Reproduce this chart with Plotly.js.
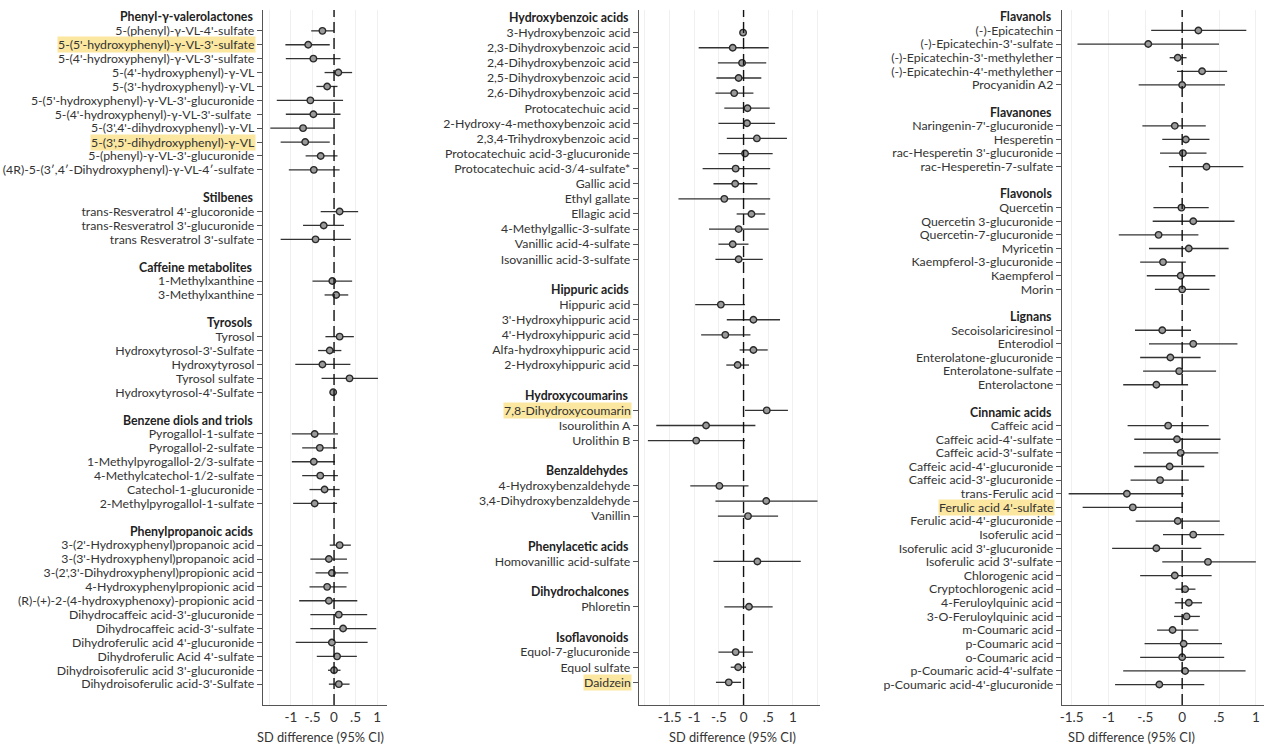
<!DOCTYPE html>
<html>
<head>
<meta charset="utf-8">
<script src="https://cdn.plot.ly/plotly-3.0.1.min.js"></script>
<style>html,body{margin:0;padding:0;background:#fff;}#chart{width:1264px;height:745px;}</style>
</head>
<body>
<div id="chart"></div>
<script>
// ---------- Panel 1 ----------
const p1Groups = ["Phenyl-γ-valerolactones","Stilbenes","Caffeine metabolites","Tyrosols","Benzene diols and triols","Phenylpropanoic acids"];
const p1Counts = [11,3,2,5,6,11];
const p1Labels = [
 "5-(phenyl)-γ-VL-4'-sulfate","5-(5'-hydroxyphenyl)-γ-VL-3'-sulfate","5-(4'-hydroxyphenyl)-γ-VL-3'-sulfate","5-(4'-hydroxyphenyl)-γ-VL","5-(3'-hydroxyphenyl)-γ-VL","5-(5'-hydroxyphenyl)-γ-VL-3'-glucuronide","5-(4'-hydroxyphenyl)-γ-VL-3'-sulfate ","5-(3',4'-dihydroxyphenyl)-γ-VL","5-(3',5'-dihydroxyphenyl)-γ-VL","5-(phenyl)-γ-VL-3'-glucuronide","(4R)-5-(3′,4′-Dihydroxyphenyl)-γ-VL-4′-sulfate",
 "trans-Resveratrol 4'-glucoronide","trans-Resveratrol 3'-glucuronide","trans Resveratrol 3'-sulfate",
 "1-Methylxanthine","3-Methylxanthine",
 "Tyrosol","Hydroxytyrosol-3'-Sulfate","Hydroxytyrosol","Tyrosol sulfate","Hydroxytyrosol-4'-Sulfate",
 "Pyrogallol-1-sulfate","Pyrogallol-2-sulfate","1-Methylpyrogallol-2/3-sulfate","4-Methylcatechol-1/2-sulfate","Catechol-1-glucuronide","2-Methylpyrogallol-1-sulfate",
 "3-(2'-Hydroxyphenyl)propanoic acid","3-(3'-Hydroxyphenyl)propanoic acid","3-(2',3'-Dihydroxyphenyl)propionic acid","4-Hydroxyphenylpropionic acid","(R)-(+)-2-(4-hydroxyphenoxy)-propionic acid","Dihydrocaffeic acid-3'-glucuronide","Dihydrocaffeic acid-3'-sulfate","Dihydroferulic acid 4'-glucuronide","Dihydroferulic Acid 4'-sulfate","Dihydroisoferulic acid 3'-glucuronide","Dihydroisoferulic acid-3'-Sulfate"
];
const p1Est = [-0.27,-0.60,-0.48,0.10,-0.16,-0.55,-0.48,-0.72,-0.67,-0.31,-0.47, 0.13,-0.24,-0.43, -0.04,0.05, 0.13,-0.10,-0.27,0.36,-0.02, -0.45,-0.33,-0.47,-0.32,-0.22,-0.45, 0.13,-0.12,-0.05,-0.16,-0.12,0.11,0.21,-0.05,0.07,0.00,0.11];
const p1Lo  = [-0.53,-1.13,-1.12,-0.22,-0.41,-1.33,-1.12,-1.48,-1.24,-0.66,-1.05, -0.31,-0.72,-1.24, -0.50,-0.22, -0.20,-0.37,-0.90,-0.29,-0.06, -0.98,-0.74,-0.98,-0.74,-0.57,-0.95, -0.10,-0.55,-0.43,-0.57,-0.81,-0.55,-0.55,-0.89,-0.40,-0.14,-0.12];
const p1Hi  = [0.00,-0.10,0.15,0.42,0.08,0.21,0.15,-0.01,-0.10,0.08,0.13, 0.56,0.23,0.39, 0.42,0.33, 0.46,0.17,0.38,1.02,0.04, 0.09,0.07,0.02,0.09,0.13,0.07, 0.39,0.30,0.33,0.29,0.54,0.77,0.98,0.78,0.53,0.15,0.36];
const p1Highlight = ["5-(5'-hydroxyphenyl)-γ-VL-3'-sulfate","5-(3',5'-dihydroxyphenyl)-γ-VL"];

// ---------- Panel 2 ----------
const p2Groups = ["Hydroxybenzoic acids","Hippuric acids","Hydroxycoumarins","Benzaldehydes","Phenylacetic acids","Dihydrochalcones","Isoflavonoids"];
const p2Counts = [16,5,3,3,1,1,3];
const p2Labels = [
 "3-Hydroxybenzoic acid","2,3-Dihydroxybenzoic acid","2,4-Dihydroxybenzoic acid","2,5-Dihydroxybenzoic acid","2,6-Dihydroxybenzoic acid","Protocatechuic acid","2-Hydroxy-4-methoxybenzoic acid","2,3,4-Trihydroxybenzoic acid","Protocatechuic acid-3-glucuronide","Protocatechuic acid-3/4-sulfate*","Gallic acid","Ethyl gallate","Ellagic acid","4-Methylgallic-3-sulfate","Vanillic acid-4-sulfate","Isovanillic acid-3-sulfate",
 "Hippuric acid","3'-Hydroxyhippuric acid","4'-Hydroxyhippuric acid","Alfa-hydroxyhippuric acid","2-Hydroxyhippuric acid",
 "7,8-Dihydroxycoumarin","Isourolithin A","Urolithin B",
 "4-Hydroxybenzaldehyde","3,4-Dihydroxybenzaldehyde","Vanillin",
 "Homovanillic acid-sulfate",
 "Phloretin",
 "Equol-7-glucuronide","Equol sulfate","Daidzein"
];
const p2Est = [-0.01,-0.22,-0.03,-0.10,-0.19,0.08,0.07,0.27,0.03,-0.16,-0.17,-0.39,0.16,-0.10,-0.22,-0.10, -0.46,0.20,-0.37,0.20,-0.12, 0.47,-0.76,-0.96, -0.49,0.46,0.09, 0.28, 0.11, -0.16,-0.11,-0.30];
const p2Lo  = [-0.05,-0.91,-0.52,-0.55,-0.57,-0.39,-0.51,-0.34,-0.51,-0.83,-0.61,-1.32,-0.14,-0.70,-0.51,-0.57, -0.98,-0.34,-0.86,-0.08,-0.35, 0.03,-1.77,-1.94, -1.08,-0.57,-0.52, -0.61, -0.39, -0.51,-0.26,-0.56];
const p2Hi  = [0.03,0.51,0.46,0.36,0.20,0.53,0.64,0.88,0.59,0.54,0.28,0.54,0.44,0.51,0.10,0.39, 0.03,0.74,0.14,0.49,0.11, 0.90,0.24,0.03, 0.10,1.50,0.70, 1.16, 0.59, 0.19,0.05,-0.05];
const p2Highlight = ["7,8-Dihydroxycoumarin","Daidzein"];

// ---------- Panel 3 ----------
const p3Groups = ["Flavanols","Flavanones","Flavonols","Lignans","Cinnamic acids"];
const p3Counts = [5,4,7,5,20];
const p3Labels = [
 "(-)-Epicatechin","(-)-Epicatechin-3'-sulfate","(-)-Epicatechin-3'-methylether","(-)-Epicatechin-4'-methylether","Procyanidin A2",
 "Naringenin-7'-glucuronide","Hesperetin","rac-Hesperetin 3'-glucuronide","rac-Hesperetin-7-sulfate",
 "Quercetin","Quercetin 3-glucuronide","Quercetin-7-glucuronide","Myricetin","Kaempferol-3-glucuronide","Kaempferol","Morin",
 "Secoisolariciresinol","Enterodiol","Enterolatone-glucuronide","Enterolatone-sulfate","Enterolactone",
 "Caffeic acid","Caffeic acid-4'-sulfate","Caffeic acid-3'-sulfate","Caffeic acid-4'-glucuronide","Caffeic acid-3'-glucuronide","trans-Ferulic acid","Ferulic acid 4'-sulfate","Ferulic acid-4'-glucuronide","Isoferulic acid","Isoferulic acid 3'-glucuronide","Isoferulic acid 3'-sulfate","Chlorogenic acid","Cryptochlorogenic acid","4-Feruloylquinic acid","3-O-Feruloylquinic acid","m-Coumaric acid","p-Coumaric acid","o-Coumaric acid","p-Coumaric acid-4'-sulfate","p-Coumaric acid-4'-glucuronide"
];
const p3Est = [0.22,-0.46,-0.06,0.27,0.00, -0.10,0.05,0.01,0.33, -0.01,0.15,-0.32,0.09,-0.26,-0.02,0.00, -0.27,0.15,-0.16,-0.04,-0.35, -0.19,-0.07,-0.02,-0.17,-0.30,-0.75,-0.67,-0.06,0.15,-0.35,0.35,-0.10,0.04,0.09,0.06,-0.13,0.02,0.00,0.04,-0.31];
const p3Lo  = [-0.42,-1.42,-0.17,-0.07,-0.59, -0.54,-0.27,-0.30,-0.18, -0.39,-0.40,-0.86,-0.45,-0.57,-0.48,-0.37, -0.64,-0.45,-0.57,-0.53,-0.80, -0.74,-0.65,-0.53,-0.65,-0.70,-1.54,-1.35,-0.63,-0.26,-0.95,-0.27,-0.57,-0.09,-0.10,-0.11,-0.34,-0.51,-0.57,-0.80,-0.91];
const p3Hi  = [0.87,0.50,0.06,0.61,0.58, 0.32,0.37,0.33,0.83, 0.36,0.71,0.22,0.63,0.05,0.45,0.37, 0.12,0.75,0.25,0.46,0.08, 0.36,0.52,0.49,0.30,0.09,0.02,0.01,0.51,0.57,0.26,1.00,0.40,0.18,0.27,0.24,0.22,0.54,0.57,0.86,0.30];
const p3Highlight = ["Ferulic acid 4'-sulfate"];

// x-axis tick labels
const ticks12 = [-1,-0.5,0,0.5,1];
const tickText12 = ["-1","-.5","0",".5","1"];
const ticks3 = [-1.5,-1,-0.5,0,0.5,1];
const tickText3 = ["-1.5","-1","-.5","0",".5","1"];
const axisTitle = "SD difference (95% CI)";

// ---------- build ----------
const FONT = "'Liberation Sans Narrow', 'Arial Narrow', Lato, sans-serif";
const AXFONT = "Lato, 'Liberation Sans', sans-serif";
const LBL = 12.3;
const W = 1264, H = 745;
const plotTop = 10, plotBottom = 705;
const panels = [
  {g:p1Groups,c:p1Counts,l:p1Labels,e:p1Est,lo:p1Lo,hi:p1Hi,hl:p1Highlight,x0:263,x1:387,range:[-1.65,1.23],tv:ticks12,tt:tickText12,title:320},
  {g:p2Groups,c:p2Counts,l:p2Labels,e:p2Est,lo:p2Lo,hi:p2Hi,hl:p2Highlight,x0:639,x1:820,range:[-2.12,1.55],tv:[-1.5].concat(ticks12),tt:["-1.5"].concat(tickText12),title:732},
  {g:p3Groups,c:p3Counts,l:p3Labels,e:p3Est,lo:p3Lo,hi:p3Hi,hl:p3Highlight,x0:1062,x1:1264,range:[-1.63,1.11],tv:ticks3,tt:tickText3,title:1131}
];

const data = [], shapes = [], annotations = [];
const layout = {
  width: W, height: H, margin:{l:0,r:0,t:0,b:0},
  paper_bgcolor:'#fff', plot_bgcolor:'#fff', showlegend:false,
  font:{family:FONT, size:LBL, color:'#333'}
};

panels.forEach((p, i) => {
  const sfx = i === 0 ? '' : String(i+1);
  const xa = 'x' + sfx, ya = 'y' + sfx;
  const rows = [], headerRows = [];
  let r = 0;
  p.g.forEach((gname, gi) => {
    headerRows.push(r); r++;
    for (let j = 0; j < p.c[gi]; j++) { rows.push(r); r++; }
    r++;
  });
  const N = r - 1;
  const tickText = p.l.map(s => p.hl.includes(s) ? '' : s);

  shapes.push({type:'line', xref:xa, yref:ya + ' domain', x0:0, x1:0, y0:0, y1:1,
    line:{color:'#111', width:1.4, dash:'11px,5px'}, layer:'above'});

  data.push({
    type:'scatter', mode:'markers', x:p.e, y:rows, xaxis:xa, yaxis:ya,
    marker:{symbol:'circle', size:6.5, color:'#9a9a9a', line:{width:1.4, color:'#2a2a2a'}},
    error_x:{type:'data', symmetric:false,
      array:p.hi.map((h,k)=>h - p.e[k]), arrayminus:p.lo.map((l,k)=>p.e[k] - l),
      width:0, thickness:1.3, color:'#333'},
    hoverinfo:'x+y'
  });

  layout['xaxis' + sfx] = {
    domain:[p.x0/W, p.x1/W], range:p.range, anchor:ya,
    tickmode:'array', tickvals:p.tv, ticktext:p.tt, ticks:'',
    tickfont:{family:AXFONT, size:13.5, color:'#333'},
    showline:true, linecolor:'#555', linewidth:1.2, mirror:false,
    showgrid:true, gridcolor:'#f0f0f0', gridwidth:1, zeroline:false,
    minor:{dtick:0.5, tick0:0, showgrid:true, gridcolor:'#f0f0f0'},
    fixedrange:true
  };
  layout['yaxis' + sfx] = {
    domain:[(H-plotBottom)/H, (H-plotTop)/H], range:[N+0.5, -0.5], anchor:xa,
    tickmode:'array', tickvals:rows, ticktext:tickText,
    ticks:'outside', ticklen:5, tickcolor:'#555', tickwidth:1,
    tickfont:{size:LBL, color:'#333'},
    showline:true, linecolor:'#555', linewidth:1.2,
    showgrid:false, zeroline:false, fixedrange:true
  };

  p.g.forEach((gname, gi) => {
    annotations.push({xref:xa + ' domain', yref:ya, x:0, y:headerRows[gi], xanchor:'right', yanchor:'middle',
      xshift:-8, text:'<b>' + gname + '</b>', showarrow:false, font:{size:LBL, color:'#222'}});
  });
  p.l.forEach((s, k) => {
    if (p.hl.includes(s)) {
      annotations.push({xref:xa + ' domain', yref:ya, x:0, y:rows[k], xanchor:'right', yanchor:'middle',
        xshift:-7, text:s, showarrow:false, bgcolor:'#fbe7a0', borderpad:0,
        font:{size:LBL, color:'#333'}});
    }
  });
  annotations.push({xref:'paper', yref:'paper', x:p.title/W, y:(H-737)/H, xanchor:'center', yanchor:'middle',
    text:axisTitle, showarrow:false, font:{size:12.8, color:'#333'}});
});

layout.shapes = shapes;
layout.annotations = annotations;
Plotly.newPlot('chart', data, layout, {displayModeBar:false, staticPlot:true});
</script>
</body>
</html>
